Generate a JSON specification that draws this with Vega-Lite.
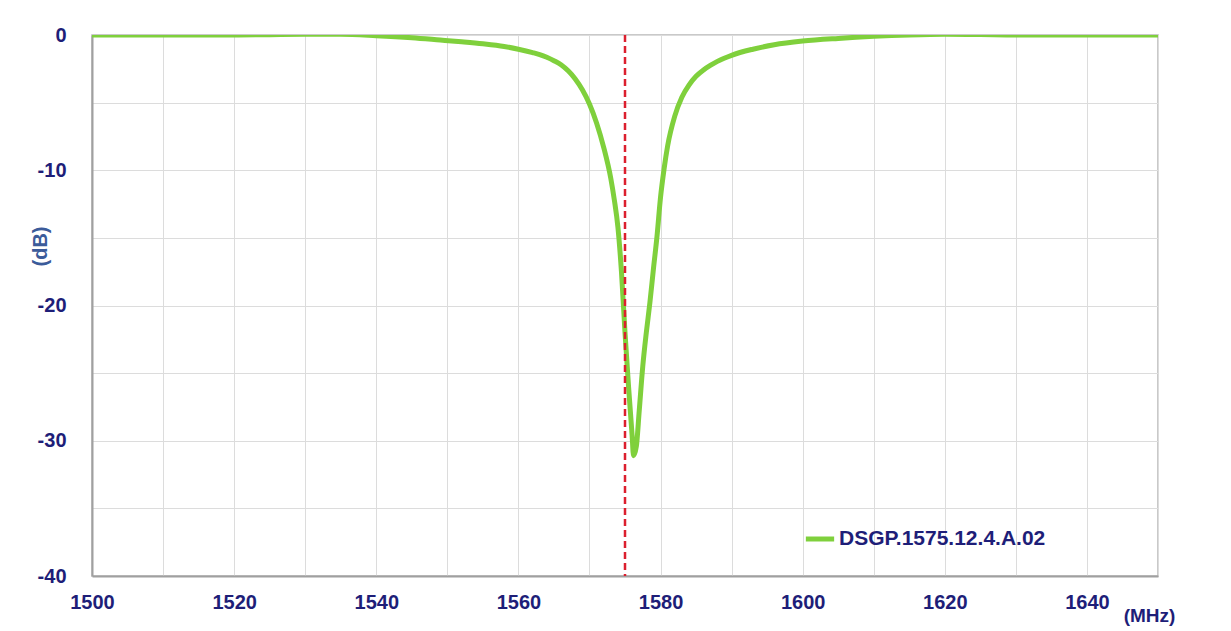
{
  "$schema": "https://vega.github.io/schema/vega-lite/v6.json",
  "width": 1066,
  "height": 541,
  "autosize": {"type": "none"},
  "padding": {"left": 92, "top": 35, "right": 73, "bottom": 55},
  "background": "white",
  "config": {
    "font": "Liberation Sans",
    "view": {"stroke": "#b8b8b8", "strokeWidth": 1.5},
    "axis": {
      "labelFont": "Liberation Sans",
      "labelFontWeight": "bold",
      "labelFontSize": 20,
      "labelColor": "#1e1e78",
      "titleFont": "Liberation Sans",
      "titleFontWeight": "bold",
      "gridColor": "#dcdcdc",
      "gridWidth": 1,
      "domainColor": "#a0a0a0",
      "domainWidth": 2,
      "ticks": false
    }
  },
  "datasets": {
    "curve": [
      {"f": 1500, "db": 0}, {"f": 1510, "db": 0}, {"f": 1520, "db": 0}, {"f": 1530, "db": 0.05},
      {"f": 1535, "db": 0.05}, {"f": 1540, "db": -0.05}, {"f": 1545, "db": -0.2}, {"f": 1549, "db": -0.37},
      {"f": 1552, "db": -0.5}, {"f": 1555, "db": -0.65}, {"f": 1558, "db": -0.85}, {"f": 1560, "db": -1.05},
      {"f": 1562, "db": -1.3}, {"f": 1563, "db": -1.45}, {"f": 1564, "db": -1.65}, {"f": 1565, "db": -1.9},
      {"f": 1566, "db": -2.2}, {"f": 1567, "db": -2.65}, {"f": 1568, "db": -3.25}, {"f": 1569, "db": -4.05},
      {"f": 1570, "db": -5.1}, {"f": 1571, "db": -6.5}, {"f": 1572, "db": -8.3}, {"f": 1573, "db": -10.6},
      {"f": 1573.5, "db": -12.2}, {"f": 1574, "db": -14.2}, {"f": 1574.5, "db": -17.5},
      {"f": 1575, "db": -22}, {"f": 1575.5, "db": -26}, {"f": 1576, "db": -29.6}, {"f": 1576.2, "db": -31.1},
      {"f": 1576.6, "db": -30.4}, {"f": 1577, "db": -27.8}, {"f": 1577.5, "db": -24.5}, {"f": 1578, "db": -22},
      {"f": 1578.5, "db": -19.8}, {"f": 1579, "db": -17.3}, {"f": 1579.5, "db": -14.9}, {"f": 1580, "db": -12},
      {"f": 1580.5, "db": -9.9}, {"f": 1581, "db": -8.2}, {"f": 1582, "db": -6.0}, {"f": 1583, "db": -4.6},
      {"f": 1584, "db": -3.7}, {"f": 1585, "db": -3.05}, {"f": 1586, "db": -2.6}, {"f": 1587, "db": -2.25},
      {"f": 1588, "db": -1.95}, {"f": 1590, "db": -1.5}, {"f": 1593, "db": -1.05},
      {"f": 1596, "db": -0.72}, {"f": 1600, "db": -0.45}, {"f": 1605, "db": -0.25},
      {"f": 1610, "db": -0.1}, {"f": 1615, "db": 0}, {"f": 1620, "db": 0.05}, {"f": 1625, "db": 0.03},
      {"f": 1630, "db": 0}, {"f": 1640, "db": 0}, {"f": 1650, "db": 0}
    ],
    "marker": [{"f": 1575}]
  },
  "layer": [
    {
      "data": {"name": "curve"},
      "mark": {"type": "line", "strokeWidth": 5, "interpolate": "monotone", "clip": true},
      "encoding": {
        "x": {
          "field": "f", "type": "quantitative",
          "scale": {"domain": [1500, 1650], "nice": false, "zero": false},
          "axis": {
            "values": [1500,1510,1520,1530,1540,1550,1560,1570,1580,1590,1600,1610,1620,1630,1640,1650],
            "labelExpr": "(datum.value - 1500) % 20 == 0 && datum.value < 1650 ? '' + datum.value : ''",
            "labelPadding": 16,
            "labelFlush": false,
            "title": "(MHz)",
            "titleFontSize": 19,
            "titleColor": "#1e1e78",
            "titleX": 1057,
            "titleY": 39,
            "titleAlign": "center",
            "titleBaseline": "middle"
          }
        },
        "y": {
          "field": "db", "type": "quantitative",
          "scale": {"domain": [-40, 0], "nice": false},
          "axis": {
            "values": [-40,-35,-30,-25,-20,-15,-10,-5,0],
            "labelExpr": "datum.value % 10 == 0 ? '' + datum.value : ''",
            "labelPadding": 26,
            "labelFlush": false,
            "title": "(dB)",
            "titleFontSize": 20,
            "titleColor": "#3b5b9a",
            "titleAngle": -90,
            "titleX": -52,
            "titleY": 211,
            "titleAlign": "center",
            "titleBaseline": "middle"
          }
        },
        "color": {
          "datum": "DSGP.1575.12.4.A.02",
          "scale": {"range": ["#7fd03c"]},
          "legend": {
            "title": null,
            "orient": "none",
            "legendX": 711,
            "legendY": 487,
            "symbolType": "stroke",
            "symbolSize": 800,
            "symbolStrokeWidth": 5,
            "labelFont": "Liberation Sans",
            "labelFontWeight": "bold",
            "labelFontSize": 21,
            "labelColor": "#1e1e78",
            "labelOffset": 2,
            "labelLimit": 400
          }
        }
      }
    },
    {
      "data": {"name": "marker"},
      "mark": {"type": "rule", "color": "#dc1f2e", "strokeWidth": 2.5, "strokeDash": [7, 4]},
      "encoding": {
        "x": {"field": "f", "type": "quantitative"}
      }
    }
  ]
}
